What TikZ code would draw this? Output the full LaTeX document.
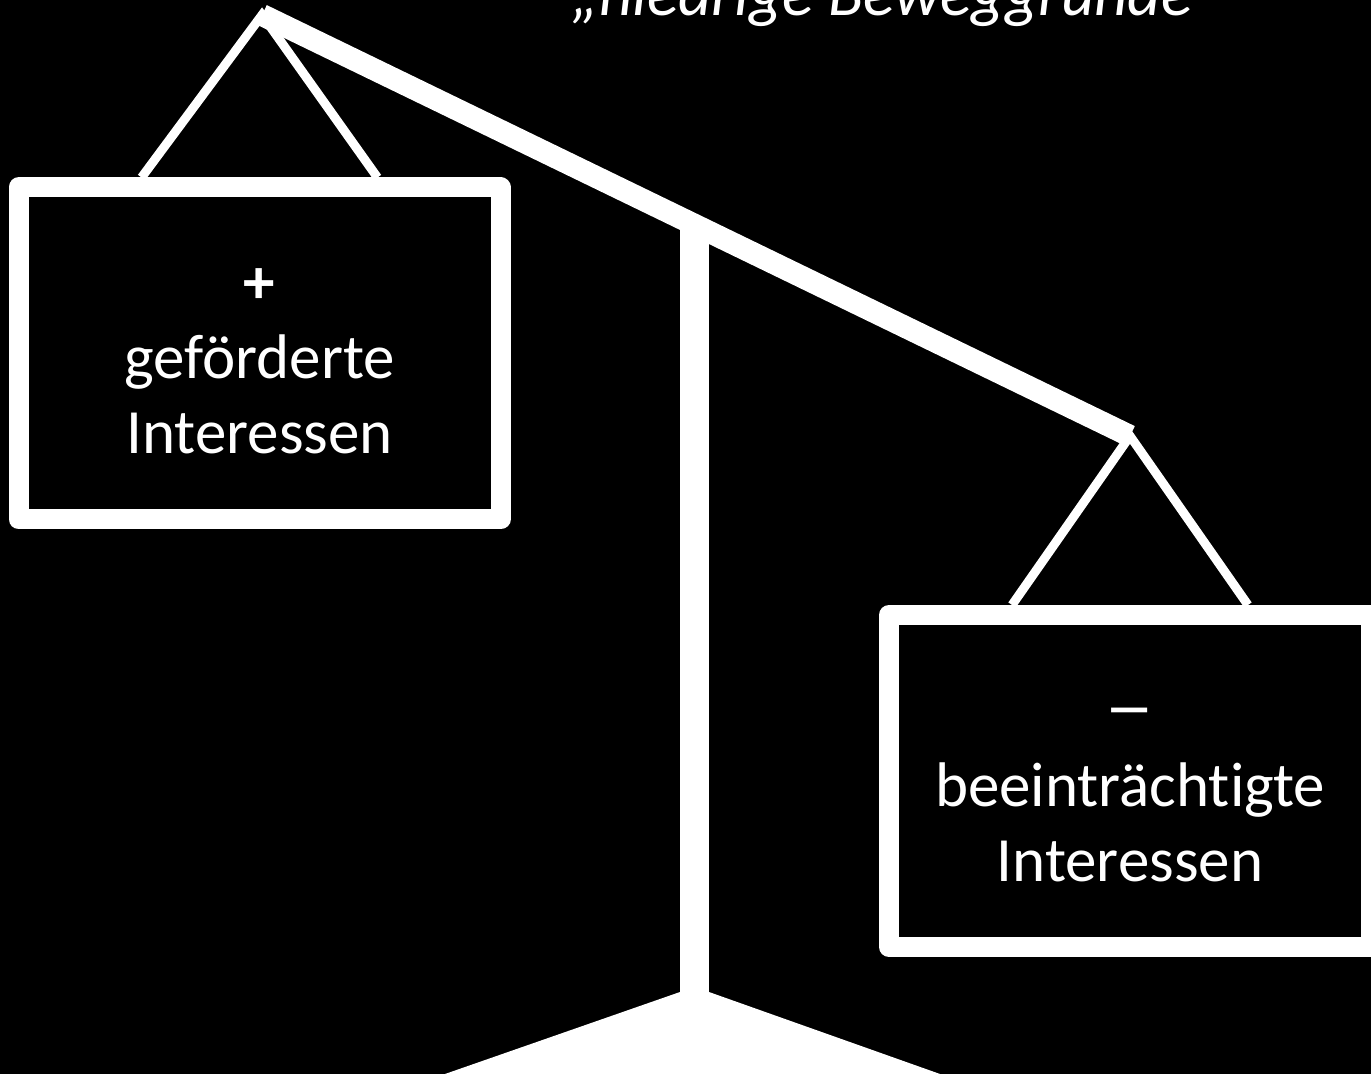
\documentclass[tikz,border=0pt]{standalone}
\usepackage{fontspec}
\setmainfont{Carlito}[Ligatures=NoCommon]
\usetikzlibrary{positioning,calc}
\tikzset{
  beam/.style={white, line width=11pt},
  rope/.style={white, line width=4.5pt},
  pan/.style={draw=white, line width=10pt, line join=round, inner sep=0pt,
    minimum width=241pt, minimum height=166pt, text height=100pt, text depth=0pt,
    text=white, align=center, font=\fontsize{31.5}{37.5}\selectfont}
}

\begin{document}
\begin{tikzpicture}[x=0.5pt, y=-0.5pt]
  \fill[black] (0,0) rectangle (1371,1074);
  \useasboundingbox (0,0) rectangle (1371,1074);
  % stand
  \fill[white] (680,225) rectangle (709,993);
  \fill[white] (680,992) -- (709,992) -- (940,1074) -- (445,1074) -- cycle;
  % beam
  \coordinate (L) at (262,15);
  \coordinate (R) at (1130,436);
  \draw[beam] (L) -- (R);
  % pans
  \node[pan] (pro) at (259.5,353.5) {\textbf{+}\\geförderte\\Interessen};
  \node[pan] (contra) at (1130,781) {\scalebox{1.6}[1.2]{–}\\beeinträchtigte\\Interessen};
  \draw[rope] ($(pro.north west)!.265!(pro.north east)$) -- (L)
    -- ($(pro.north west)!.735!(pro.north east)$);
  \draw[rope] ($(contra.north west)!.265!(contra.north east)$) -- (R)
    -- ($(contra.north west)!.735!(contra.north east)$);
  \node[white, anchor=base, font=\fontsize{32.5}{37.5}\selectfont\itshape] (motiv)
    at (895,16) {„niedrige Beweggründe“};
\end{tikzpicture}
\end{document}
